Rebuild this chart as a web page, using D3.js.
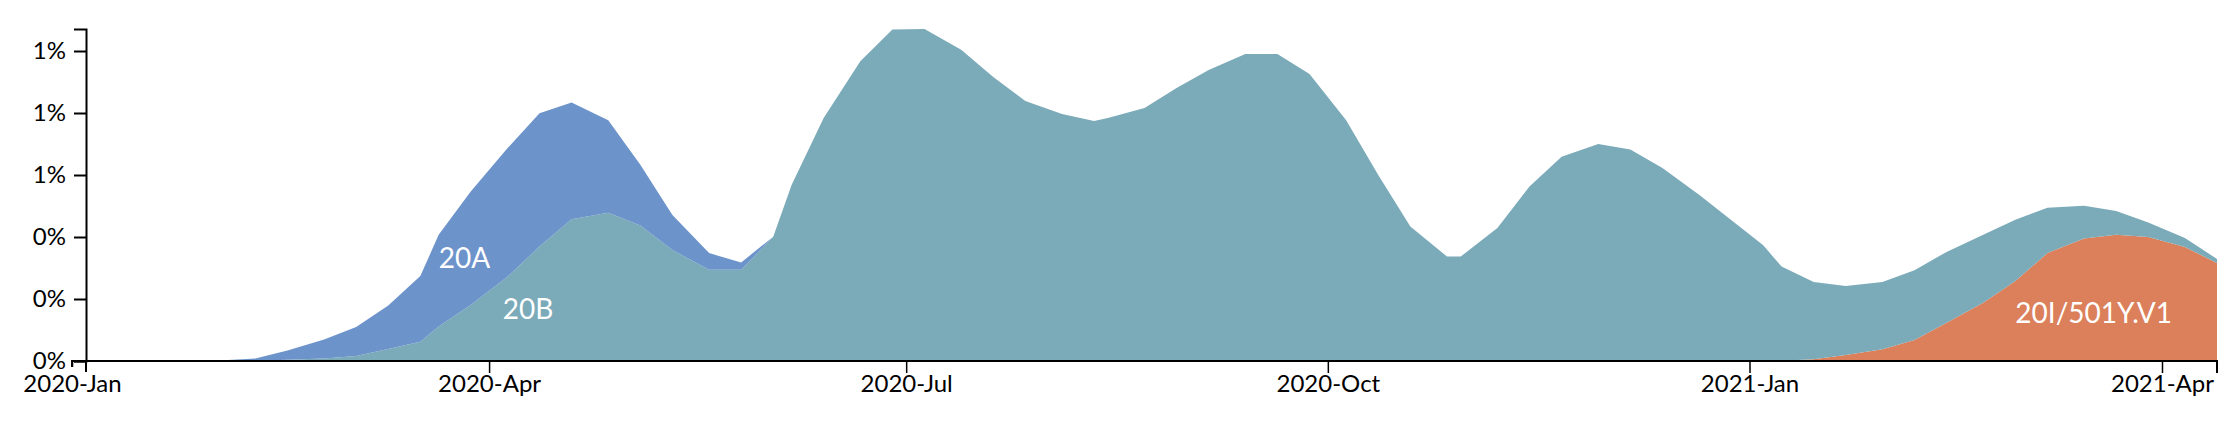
<!DOCTYPE html>
<html>
<head>
<meta charset="utf-8">
<script src="https://cdn.jsdelivr.net/npm/d3@7"></script>
<style>
  html, body { margin: 0; padding: 0; background: #fff; }
  svg { display: block; font-family: Lato, "Noto Sans", sans-serif; }
</style>
</head>
<body>
<svg id="chart" width="2234" height="436"></svg>
<script>
// ---- data (values in percent) ----
const dates = [
  "2020-01-04","2020-01-12","2020-01-19","2020-01-26","2020-02-03","2020-02-10","2020-02-17","2020-02-25",
  "2020-03-03","2020-03-10","2020-03-17","2020-03-21","2020-03-28","2020-04-05","2020-04-12","2020-04-19",
  "2020-04-27","2020-05-04","2020-05-11","2020-05-19","2020-05-26","2020-06-02","2020-06-06","2020-06-13",
  "2020-06-21","2020-06-28","2020-07-05","2020-07-13","2020-07-20","2020-07-27","2020-08-04","2020-08-11",
  "2020-08-14","2020-08-22","2020-08-29","2020-09-05","2020-09-13","2020-09-20","2020-09-27","2020-10-05",
  "2020-10-12","2020-10-19","2020-10-27","2020-10-30","2020-11-07","2020-11-14","2020-11-21","2020-11-29",
  "2020-12-06","2020-12-13","2020-12-21","2020-12-28","2021-01-04","2021-01-08","2021-01-15","2021-01-22",
  "2021-01-30","2021-02-06","2021-02-13","2021-02-21","2021-02-28","2021-03-07","2021-03-15","2021-03-22",
  "2021-03-29","2021-04-06","2021-04-13"
];
const v20A = [
  0,0,0,0.0003,0.0026,0.0071,0.030,0.061,
  0.094,0.140,0.212,0.296,0.366,0.414,0.430,0.377,
  0.299,0.196,0.113,0.054,0.024,0,0,0,
  0,0,0,0,0,0,0,0,
  0,0,0,0,0,0,0,0,
  0,0,0,0,0,0,0,0,
  0,0,0,0,0,0,0,0,
  0,0,0,0,0,0,0,0,
  0,0,0
];
const v20B = [
  0,0,0,0,0,0.001,0.004,0.008,
  0.016,0.039,0.062,0.111,0.181,0.272,0.369,0.457,
  0.478,0.437,0.358,0.294,0.294,0.401,0.568,0.784,
  0.967,1.069,1.071,1.004,0.916,0.839,0.797,0.774,
  0.784,0.816,0.881,0.939,0.990,0.990,0.926,0.777,
  0.600,0.434,0.337,0.337,0.429,0.563,0.659,0.700,
  0.682,0.623,0.536,0.455,0.373,0.304,0.249,0.223,
  0.217,0.225,0.229,0.219,0.198,0.146,0.106,0.077,
  0.047,0.029,0.013
];
const v20I = [
  0,0,0,0,0,0,0,0,
  0,0,0,0,0,0,0,0,
  0,0,0,0,0,0,0,0,
  0,0,0,0,0,0,0,0,
  0,0,0,0,0,0,0,0,
  0,0,0,0,0,0,0,0,
  0,0,0,0,0,0.0006,0.006,0.019,
  0.038,0.068,0.123,0.188,0.258,0.348,0.395,0.407,
  0.400,0.368,0.316
];
const seriesKeys = ["20I/501Y.V1", "20B", "20A"];           // bottom -> top
const seriesColors = ["#DB805B", "#7BAAB9", "#6D93CB"];
const yTicks = [0, 0.2, 0.4, 0.6, 0.8, 1.0];
const xTickDates = ["2020-01-01","2020-04-01","2020-07-01","2020-10-01","2021-01-01","2021-04-01"];
const labels = [
  { text: "20A", date: "2020-03-21", value: 0.30 },
  { text: "20B", date: "2020-04-04", value: 0.134 },
  { text: "20I/501Y.V1", date: "2021-02-28", value: 0.122 }
];

// ---- build ----
const parse = d3.timeParse("%Y-%m-%d");
const rows = dates.map((d, i) => ({
  date: parse(d),
  "20A": v20A[i], "20B": v20B[i], "20I/501Y.V1": v20I[i]
}));

const svg = d3.select("#chart");
const x = d3.scaleTime()
  .domain([parse("2020-01-01"), rows[rows.length - 1].date])
  .range([72, 2217]);

const stack = d3.stack().keys(seriesKeys)(rows);
const yMax = d3.max(stack[stack.length - 1], d => d[1]);
const y = d3.scaleLinear().domain([0, yMax]).range([361, 29]);

const area = d3.area()
  .x(d => x(d.data.date))
  .y0(d => y(d[0]))
  .y1(d => y(d[1]))
  .curve(d3.curveLinear);

svg.append("g")
  .selectAll("path")
  .data(stack)
  .join("path")
  .attr("fill", (d, i) => seriesColors[i])
  .attr("d", area);

// labels
svg.append("g")
  .selectAll("text")
  .data(labels)
  .join("text")
  .attr("x", d => x(parse(d.date)))
  .attr("y", d => y(d.value))
  .attr("fill", "#fff")
  .attr("font-size", 28)
  .text(d => d.text);

// x axis
const fmtX = d3.timeFormat("%Y-%b");
const xAxis = d3.axisBottom(x)
  .tickValues(xTickDates.map(parse))
  .tickFormat(fmtX)
  .tickSizeInner(12)
  .tickSizeOuter(12)
  .tickPadding(2);
const gx = svg.append("g").attr("transform", "translate(0,361)").call(xAxis);
gx.select(".domain").attr("stroke-width", 2);
gx.selectAll(".tick line").attr("stroke-width", 1.5);
gx.selectAll(".tick line").filter((d, i) => i === 0).attr("y2", 6);
gx.selectAll(".tick text").attr("font-size", 24).attr("font-family", "Lato").attr("fill", "#000");
// shorter left outer tick
const [rx0, rx1] = x.range();
gx.select(".domain").attr("d", `M${rx0},6V0H${rx1}V12`);

// y axis
const yAxis = d3.axisLeft(y)
  .tickValues(yTicks)
  .tickFormat(d => d3.format(".0%")(d / 100))
  .tickSize(12)
  .tickPadding(8);
const gy = svg.append("g").attr("transform", "translate(86,0)").call(yAxis);
gy.select(".domain").attr("stroke-width", 2);
gy.selectAll(".tick line").attr("stroke-width", 2);
gy.selectAll(".tick text").attr("font-size", 24).attr("font-family", "Lato").attr("fill", "#000");
gy.append("line")
  .attr("x1", 0).attr("x2", 0)
  .attr("y1", y(0)).attr("y2", y(0) + 11)
  .attr("stroke", "currentColor").attr("stroke-width", 2);
</script>
</body>
</html>
